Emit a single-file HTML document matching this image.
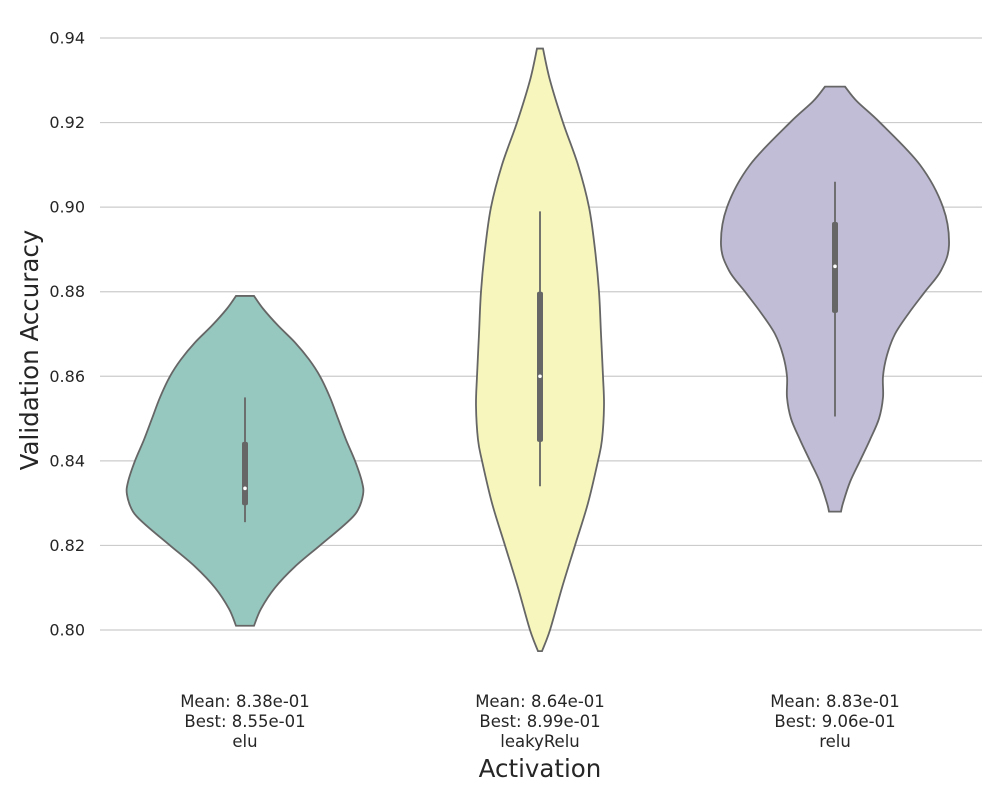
<!DOCTYPE html>
<html><head><meta charset="utf-8"><style>
body{margin:0;background:#fff;}
svg text{font-family:"DejaVu Sans","Liberation Sans",sans-serif;fill:#262626;}
</style></head><body>
<svg id="chart" width="1000" height="800" xmlns="http://www.w3.org/2000/svg">
<g id="grid"></g>
<g id="yticks"></g>
<g id="violins"></g>
<g id="xlabels"></g>
<text x="38" y="350" font-size="24.5" text-anchor="middle" transform="rotate(-90 38 350)">Validation Accuracy</text>
<text x="540" y="777" font-size="24.5" text-anchor="middle">Activation</text>
</svg>
<script>
const categories=["elu","leakyRelu","relu"];
const colors=["#96c8bf","#f6f6bd","#c1bdd6"];
const yTicks=[0.80,0.82,0.84,0.86,0.88,0.90,0.92,0.94];
const meanLabels=["8.38e-01","8.64e-01","8.83e-01"];
const bestLabels=["8.55e-01","8.99e-01","9.06e-01"];
// density profiles: [value, relative half-width]
const densElu=[[0.879,9],[0.876,18],[0.872,33],[0.868,50],[0.864,64],[0.860,75],[0.855,85],[0.850,93],[0.845,101],[0.840,110],[0.835,117],[0.832,118],[0.828,112],[0.825,100],[0.820,75],[0.815,50],[0.810,30],[0.805,16],[0.801,9]];
const densLeaky=[[0.9375,3],[0.93,10],[0.92,23],[0.91,38],[0.90,49],[0.89,55],[0.88,59],[0.87,61],[0.86,63],[0.853,64],[0.845,62],[0.84,58],[0.83,48],[0.82,35],[0.81,22],[0.80,10],[0.795,2]];
const densRelu=[[0.9285,10],[0.925,22],[0.92,45],[0.91,85],[0.90,108],[0.891,114],[0.885,106],[0.88,90],[0.875,74],[0.87,60],[0.865,52],[0.86,48],[0.855,48],[0.85,44],[0.845,35],[0.84,25],[0.835,15],[0.83,8],[0.828,6]];
const densities=[densElu,densLeaky,densRelu];
const q1=[0.8295,0.8445,0.875];
const q3=[0.8445,0.880,0.8965];
const medians=[0.8335,0.860,0.886];
const whiskLo=[0.8255,0.834,0.8505];
const whiskHi=[0.855,0.899,0.906];

const NS="http://www.w3.org/2000/svg";
const y=v=>630-(v-0.80)/0.14*592;
const x=i=>245+i*295;
function mk(t,a,p){const e=document.createElementNS(NS,t);for(const k in a)e.setAttribute(k,a[k]);p.appendChild(e);return e;}
const grid=document.getElementById('grid'),yt=document.getElementById('yticks');
yTicks.forEach(v=>{
  const l=mk('line',{x1:100,x2:982,y1:y(v),y2:y(v),stroke:'#cccccc','stroke-width':1.2},grid);
  
  
  const t=mk('text',{x:85,y:y(v)+5.5,'font-size':16,'text-anchor':'end'},yt);
  t.textContent=v.toFixed(2);
  
  
});
function smooth(pts){let d=`M${pts[0][0]},${pts[0][1]}`;
  for(let i=0;i<pts.length-1;i++){const p0=pts[Math.max(0,i-1)],p1=pts[i],p2=pts[i+1],p3=pts[Math.min(pts.length-1,i+2)];
    d+=` C${p1[0]+(p2[0]-p0[0])/6},${p1[1]+(p2[1]-p0[1])/6} ${p2[0]-(p3[0]-p1[0])/6},${p2[1]-(p3[1]-p1[1])/6} ${p2[0]},${p2[1]}`;}
  return d;}
const vg=document.getElementById('violins'),xl=document.getElementById('xlabels');
categories.forEach((c,i)=>{
  const cx=x(i),den=densities[i];
  const right=den.map(p=>[cx+p[1],y(p[0])]);
  const left=den.slice().reverse().map(p=>[cx-p[1],y(p[0])]);
  let d=smooth(right)+` L${left[0][0]},${left[0][1]}`+smooth(left).replace(/^M[^C]*/,' ')+'Z';
  const p=mk('path',{d:d,fill:colors[i],stroke:'#666666','stroke-width':1.8},vg);
  
  
  const w=mk('line',{x1:cx,x2:cx,y1:y(whiskLo[i]),y2:y(whiskHi[i]),stroke:'#666666','stroke-width':1.8},vg);
  
  
  const b=mk('rect',{x:cx-3,y:y(q3[i]),width:6,height:y(q1[i])-y(q3[i]),rx:2,fill:'#666666'},vg);
  
  
  const m=mk('circle',{cx:cx,cy:y(medians[i]),r:1.8,fill:'#ffffff'},vg);
  
  
  [`Mean: ${meanLabels[i]}`,`Best: ${bestLabels[i]}`,c].forEach((s,k)=>{
    const t=mk('text',{x:cx,y:707+k*20,'font-size':16.5,'text-anchor':'middle'},xl);
    t.textContent=s;
    
    
  });
});
</script>
</body></html>
